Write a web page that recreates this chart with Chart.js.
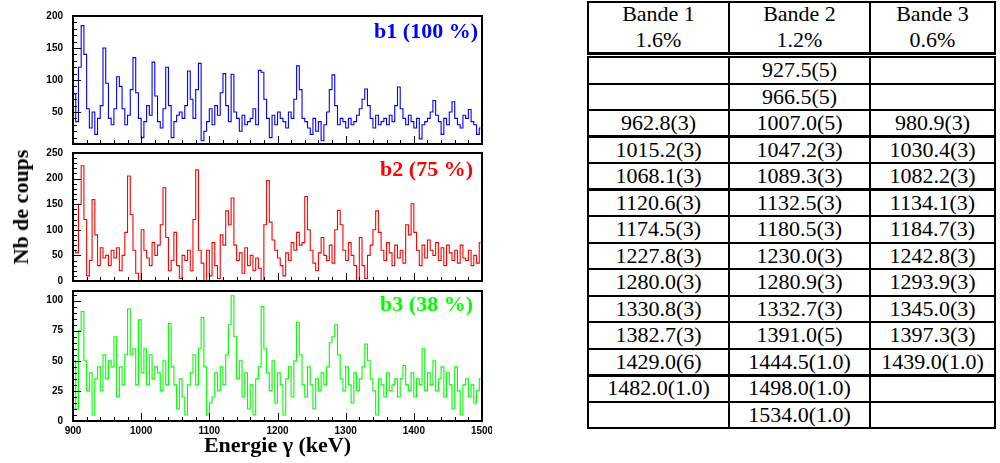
<!DOCTYPE html>
<html>
<head>
<meta charset="utf-8">
<script src="https://cdn.jsdelivr.net/npm/chart.js@4.4.1/dist/chart.umd.min.js"></script>
<style>
  body { margin: 0; background: #fff; width: 1000px; height: 463px; overflow: hidden; position: relative; }
  canvas { position: absolute; left: 0; }
  #ytitle { position: absolute; left: 21px; top: 207px; transform: translate(-50%, -50%) rotate(-90deg);
            font: bold 22px "Liberation Serif", serif; white-space: nowrap; }
  .cell { position: absolute; text-align: center; font: 22px "Liberation Serif", serif; color: #000; white-space: nowrap; }
  .hl, .vl { position: absolute; background: #000; }
</style>
</head>
<body>
<canvas id="c1" width="492" height="160" style="top:0px"></canvas>
<canvas id="c2" width="492" height="160" style="top:137px"></canvas>
<canvas id="c3" width="492" height="188" style="top:275px"></canvas>
<div id="ytitle">Nb de coups</div>
<div id="tbl"></div>
<script>
// spectra, 4 keV bins from 900 to 1500 keV
const b1 = [78, 35, 120, 185, 140, 55, 25, 50, 15, 40, 60, 150,
  95, 40, 30, 55, 105, 90, 55, 30, 45, 85, 135, 80,
  40, 10, 35, 60, 45, 128, 75, 35, 25, 55, 120, 60,
  10, 35, 45, 50, 40, 60, 114, 70, 40, 85, 126, 5,
  20, 35, 55, 30, 60, 45, 80, 110, 60, 35, 109, 50,
  40, 20, 45, 30, 35, 40, 55, 30, 115, 112, 70, 40,
  10, 45, 30, 50, 40, 35, 25, 50, 40, 70, 122, 85,
  40, 35, 25, 15, 40, 20, 35, 5, 30, 50, 85, 108,
  60, 30, 40, 35, 25, 40, 30, 35, 45, 55, 70, 86,
  60, 40, 25, 45, 30, 35, 40, 30, 45, 35, 60, 89,
  55, 40, 30, 45, 35, 25, 40, 8, 30, 35, 40, 50,
  68, 45, 35, 15, 40, 30, 50, 66, 40, 30, 25, 45,
  40, 54, 35, 30, 15, 25];
const b2 = [60, 55, 150, 225, 120, 10, 40, 159, 90, 30, 65, 45,
  50, 30, 60, 45, 65, 20, 50, 95, 205, 130, 60, 15,
  0, 100, 60, 45, 30, 75, 50, 70, 110, 182, 85, 20,
  40, 95, 30, 5, 50, 40, 60, 20, 120, 217, 60, 35,
  0, 60, 10, 75, 30, 5, 90, 70, 137, 110, 162, 70,
  40, 55, 15, 65, 30, 50, 20, 45, 25, 0, 110, 196,
  115, 80, 60, 45, 30, 10, 55, 40, 75, 60, 95, 70,
  75, 165, 100, 60, 35, 20, 55, 85, 50, 40, 70, 35,
  100, 138, 110, 60, 40, 75, 50, 30, 0, 85, 30, 5,
  50, 70, 100, 137, 95, 60, 40, 75, 55, 30, 70, 45,
  60, 35, 110, 90, 151, 95, 60, 30, 70, 45, 80, 60,
  50, 75, 40, 65, 30, 70, 55, 40, 60, 35, 70, 45,
  40, 60, 30, 50, 35, 75];
const b3 = [50, 10, 75, 91, 50, 25, 40, 5, 35, 45, 25, 55,
  35, 50, 45, 70, 20, 45, 30, 55, 93, 55, 60, 30,
  84, 40, 60, 30, 55, 35, 45, 40, 25, 50, 30, 81,
  45, 30, 10, 35, 20, 5, 30, 40, 55, 30, 60, 86,
  45, 5, 15, 20, 40, 25, 45, 30, 55, 80, 104, 70,
  35, 50, 20, 40, 10, 30, 5, 35, 45, 95, 60, 40,
  25, 50, 15, 40, 30, 5, 35, 45, 20, 50, 82, 55,
  30, 20, 45, 30, 10, 35, 25, 40, 30, 45, 65, 70,
  80, 55, 35, 25, 45, 30, 15, 40, 25, 35, 45, 64,
  50, 35, 25, 5, 35, 30, 20, 40, 25, 30, 35, 20,
  35, 46, 30, 25, 40, 20, 35, 30, 60, 25, 40, 30,
  50, 25, 35, 45, 20, 40, 30, 10, 45, 25, 5, 30,
  35, 20, 30, 15, 25, 35];

const xTicks = [900, 1000, 1100, 1200, 1300, 1400, 1500];
const yTicks1 = [50, 100, 150, 200];
const yTicks2 = [0, 50, 100, 150, 200, 250];
const yTicks3 = [0, 25, 50, 75, 100];

// table columns
const head1 = ['Bande 1', 'Bande 2', 'Bande 3'];
const head2 = ['1.6%', '1.2%', '0.6%'];
const bande1 = ['', '', '962.8(3)', '1015.2(3)', '1068.1(3)', '1120.6(3)', '1174.5(3)', '1227.8(3)',
  '1280.0(3)', '1330.8(3)', '1382.7(3)', '1429.0(6)', '1482.0(1.0)', ''];
const bande2 = ['927.5(5)', '966.5(5)', '1007.0(5)', '1047.2(3)', '1089.3(3)', '1132.5(3)', '1180.5(3)',
  '1230.0(3)', '1280.9(3)', '1332.7(3)', '1391.0(5)', '1444.5(1.0)', '1498.0(1.0)', '1534.0(1.0)'];
const bande3 = ['', '', '980.9(3)', '1030.4(3)', '1082.2(3)', '1134.1(3)', '1184.7(3)', '1242.8(3)',
  '1293.9(3)', '1345.0(3)', '1397.3(3)', '1439.0(1.0)', '', ''];

const binWidth = 4;
const energies = b1.map((_, i) => 900 + binWidth * i + binWidth / 2);

const frameTicks = {
  id: 'frameTicks',
  afterDatasetsDraw(chart, args, opts) {
    const { ctx, chartArea: a, scales: { x, y } } = chart;
    ctx.save();
    ctx.strokeStyle = '#000';
    ctx.lineWidth = 1;
    ctx.beginPath();
    for (let v = 0; v <= y.max; v += opts.yMinor) {
      const py = Math.round(y.getPixelForValue(v)) + 0.5;
      const len = v % opts.yMajor === 0 ? 8 : 4;
      ctx.moveTo(a.left, py); ctx.lineTo(a.left + len, py);
    }
    for (let v = 900; v <= 1500; v += 20) {
      const px = Math.round(x.getPixelForValue(v)) + 0.5;
      const len = v % 100 === 0 ? 8 : 4;
      ctx.moveTo(px, a.bottom); ctx.lineTo(px, a.bottom - len);
    }
    ctx.stroke();
    ctx.lineWidth = 2;
    ctx.strokeRect(a.left, a.top, a.right - a.left, a.bottom - a.top);
    ctx.font = 'bold 22px "Liberation Serif"';
    ctx.fillStyle = opts.color;
    ctx.textAlign = 'right';
    ctx.fillText(opts.label, a.right - opts.dx, a.top + opts.dy);
    ctx.restore();
  }
};

function makePanel(id, values, color, yMax, yTicks, yMajor, yMinor, label, dx, dy, showX) {
  new Chart(document.getElementById(id), {
    type: 'line',
    data: {
      datasets: [{
        data: values.map((v, i) => ({ x: energies[i], y: v })),
        borderColor: color,
        borderWidth: 1.1,
        stepped: 'middle',
        pointRadius: 0,
        fill: false
      }]
    },
    options: {
      responsive: false,
      animation: false,
      layout: { padding: { left: 0, right: 10, top: 12, bottom: showX ? 0 : 12 } },
      plugins: {
        legend: { display: false },
        tooltip: { enabled: false },
        frameTicks: { color: color, label: label, dx: dx, dy: dy, yMajor: yMajor, yMinor: yMinor }
      },
      scales: {
        x: {
          type: 'linear', min: 900, max: 1500, display: showX,
          grid: { display: false, drawTicks: false }, border: { display: false },
          afterBuildTicks: s => { s.ticks = xTicks.map(v => ({ value: v })); },
          afterFit: s => {
            if (showX) s.height = 42;
            s.paddingLeft = 0; s.paddingRight = 0;
          },
          ticks: { padding: 4, color: '#000', callback: v => String(v),
                   font: { family: 'Liberation Sans', weight: 'bold', size: 10 } },
          title: { display: true, text: 'Energie γ (keV)', color: '#000',
                   font: { family: 'Liberation Serif', weight: 'bold', size: 22 }, padding: { top: 0, bottom: 3 } }
        },
        y: {
          min: 0, max: yMax,
          grid: { display: false, drawTicks: false }, border: { display: false },
          afterBuildTicks: s => { s.ticks = yTicks.map(v => ({ value: v })); },
          afterFit: s => { s.width = 73; },
          ticks: { padding: 10, color: '#000', font: { family: 'Liberation Sans', weight: 'bold', size: 10 } }
        }
      }
    },
    plugins: [frameTicks]
  });
}

makePanel('c1', b1, '#0000ff', 200, yTicks1, 50, 10, 'b1 (100 %)', 4, 22, false);
makePanel('c2', b2, '#ff0000', 250, yTicks2, 50, 10, 'b2 (75 %)', 9, 23, false);
makePanel('c3', b3, '#00ff00', 108, yTicks3, 25, 5, 'b3 (38 %)', 9, 20, true);

// table
const tbl = document.getElementById('tbl');
const colX = [588, 729, 870, 995];
function add(cls, css, text) {
  const d = document.createElement('div');
  d.className = cls;
  Object.assign(d.style, css);
  if (text) d.textContent = text;
  tbl.appendChild(d);
}
function hline(y, w) { add('hl', { left: (colX[0] - 1) + 'px', top: (y - w / 2) + 'px', width: (colX[3] - colX[0] + 2) + 'px', height: w + 'px' }); }
function vline(x, y0, y1) { add('vl', { left: (x - 1) + 'px', top: y0 + 'px', width: '2px', height: (y1 - y0) + 'px' }); }

hline(2, 2); hline(53, 3);
colX.forEach(x => vline(x, 1, 54));
for (let c = 0; c < 3; c++) {
  const w = (colX[c + 1] - colX[c]) + 'px';
  add('cell', { left: colX[c] + 'px', width: w, top: '2px', lineHeight: '24px' }, head1[c]);
  add('cell', { left: colX[c] + 'px', width: w, top: '28px', lineHeight: '24px' }, head2[c]);
}
const rowH = 26.5, top0 = 57;
const thick = [3, 5, 12];
for (let r = 0; r <= bande2.length; r++) hline(top0 + r * rowH, thick.includes(r) ? 3 : 2);
colX.forEach(x => vline(x, top0 - 1, top0 + bande2.length * rowH + 1));
const cols = [bande1, bande2, bande3];
for (let r = 0; r < bande2.length; r++) {
  for (let c = 0; c < 3; c++) {
    if (!cols[c][r]) continue;
    add('cell', { left: colX[c] + 'px', width: (colX[c + 1] - colX[c]) + 'px', top: (top0 + r * rowH) + 'px',
                  height: rowH + 'px', lineHeight: rowH + 'px' }, cols[c][r]);
  }
}
</script>
</body>
</html>
